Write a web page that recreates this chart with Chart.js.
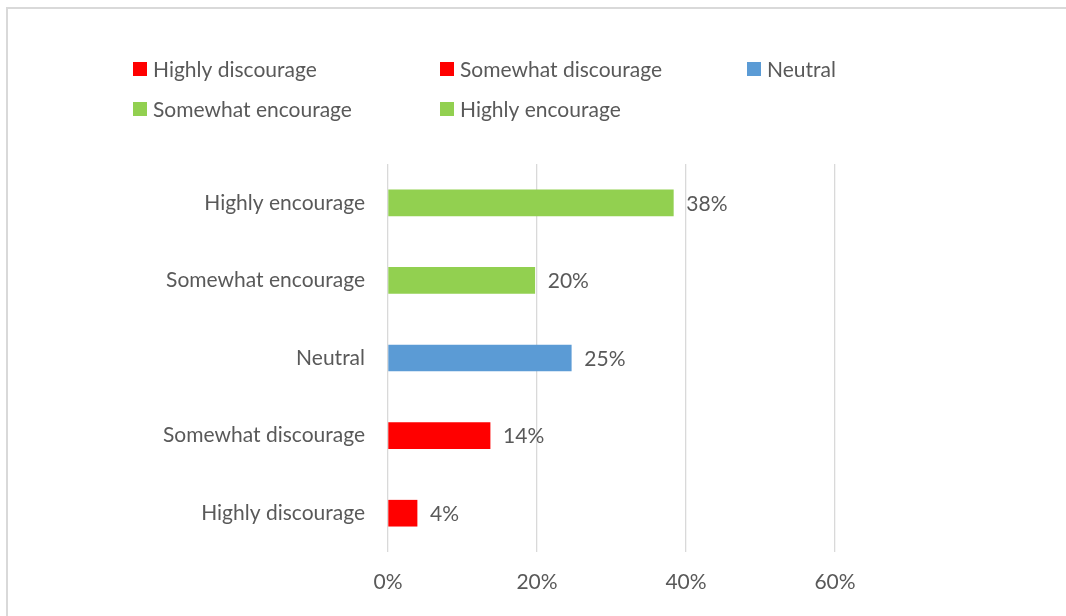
<!DOCTYPE html>
<html>
<head>
<meta charset="utf-8">
<script src="https://cdn.jsdelivr.net/npm/chart.js@4"></script>
<style>
  body { margin: 0; background: #fff; }
  #wrap { position: relative; width: 1066px; height: 616px; overflow: hidden; }
  #frame { position: absolute; left: 6px; top: 7px; width: 1100px; height: 700px;
           border-left: 2px solid #d9d9d9; border-top: 2px solid #d9d9d9; }
  canvas { position: absolute; left: 0; top: 0; }
</style>
</head>
<body>
<div id="wrap">
  <div id="frame"></div>
  <canvas id="myChart" width="1066" height="616"></canvas>
</div>
<script>
const categories = ["Highly discourage", "Somewhat discourage", "Neutral", "Somewhat encourage", "Highly encourage"];
const shares = [0.039, 0.137, 0.246, 0.197, 0.383];
const colors = ["#FF0000", "#FF0000", "#5B9BD5", "#92D050", "#92D050"];
const xTicks = [0, 0.2, 0.4, 0.6];

const fontFamily = "Lato, 'Open Sans', sans-serif";
const fontSize = 21;
const textColor = "#595959";

// one dataset per answer so each gets its own legend entry
const datasets = categories.map((name, i) => ({
  label: name,
  data: categories.map((c, j) => (j === i ? shares[i] : null)),
  backgroundColor: colors[i],
  barThickness: 26,
}));

const pct = (v) => Math.round(v * 100) + "%";

const valueLabels = {
  id: "valueLabels",
  afterDatasetsDraw(chart) {
    const ctx = chart.ctx;
    ctx.save();
    ctx.font = fontSize + "px " + fontFamily;
    ctx.fillStyle = textColor;
    ctx.textAlign = "left";
    ctx.textBaseline = "middle";
    chart.data.datasets.forEach((ds, i) => {
      const meta = chart.getDatasetMeta(i);
      meta.data.forEach((bar, j) => {
        if (ds.data[j] == null) return;
        ctx.fillText(pct(ds.data[j]), bar.x + 13, bar.y + 1);
      });
    });
    ctx.restore();
  },
};

const gridLegend = {
  id: "gridLegend",
  afterDraw(chart) {
    const ctx = chart.ctx;
    const colX = [133, 440, 747];
    const rowY = [69, 109];
    ctx.save();
    ctx.font = fontSize + "px " + fontFamily;
    ctx.textBaseline = "middle";
    chart.data.datasets.forEach((ds, i) => {
      const x = colX[i % 3];
      const y = rowY[Math.floor(i / 3)];
      ctx.fillStyle = ds.backgroundColor;
      ctx.fillRect(x, y - 7, 14, 14);
      ctx.fillStyle = textColor;
      ctx.fillText(ds.label, x + 20, y + 1);
    });
    ctx.restore();
  },
};

new Chart(document.getElementById("myChart"), {
  type: "bar",
  data: { labels: categories, datasets: datasets },
  options: {
    indexAxis: "y",
    responsive: false,
    animation: false,
    layout: { padding: { top: 164, right: 231, left: 0, bottom: 0 } },
    plugins: { legend: { display: false }, tooltip: { enabled: false } },
    scales: {
      x: {
        stacked: true,
        min: 0,
        max: 0.6,
        afterBuildTicks(scale) {
          scale.ticks = xTicks.map((v) => ({ value: v }));
        },
        afterFit(scale) { scale.height = 64; },
        grid: { color: "#d9d9d9", lineWidth: 1.3, drawTicks: false },
        border: { display: false },
        ticks: {
          padding: 18,
          color: textColor,
          font: { family: fontFamily, size: fontSize },
          callback: (v) => pct(v),
        },
      },
      y: {
        stacked: true,
        reverse: true,
        afterFit(scale) { scale.width = 388; },
        grid: { display: false },
        border: { display: false },
        ticks: {
          padding: 15,
          color: textColor,
          font: { family: fontFamily, size: fontSize },
        },
      },
    },
  },
  plugins: [valueLabels, gridLegend],
});
</script>
</body>
</html>
